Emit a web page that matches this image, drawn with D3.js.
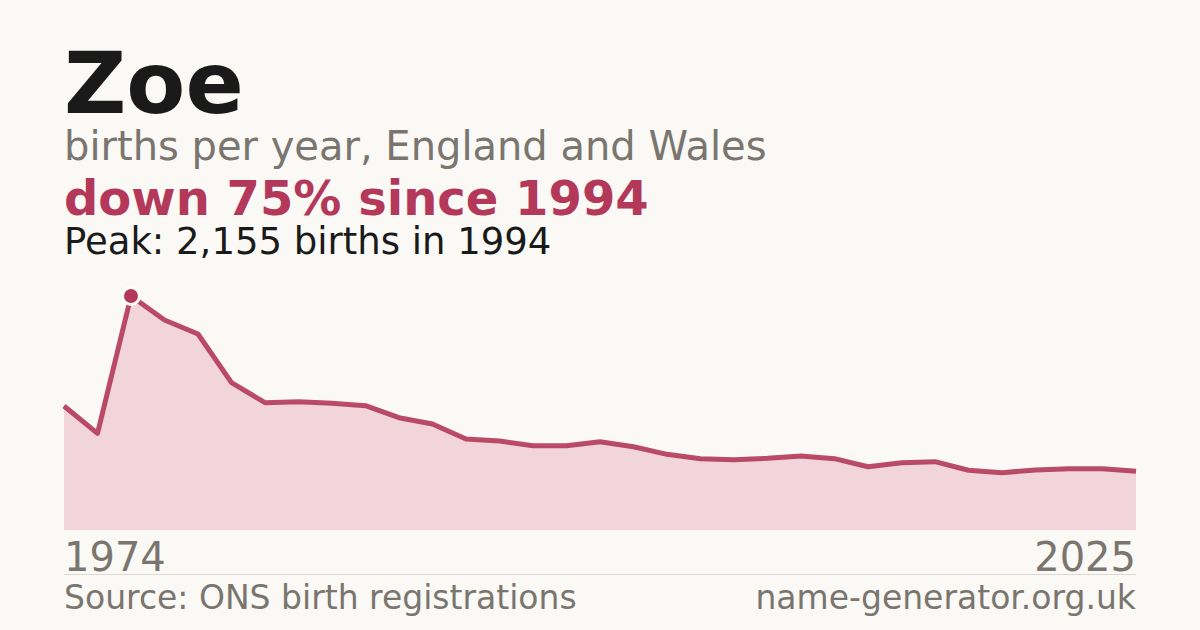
<!DOCTYPE html>
<html lang="en">
<head>
<meta charset="utf-8">
<title>Zoe births</title>
<script src="https://d3js.org/d3.v7.min.js"></script>
<style>
  html, body { margin:0; padding:0; background:#faf9f5; }
  body { font-family:"DejaVu Sans", sans-serif; }
</style>
</head>
<body>
<div id="chart"></div>
<script>
// births per year, one point per plotted year (first is 1974, last is 2025)
var births = [1142, 890, 2155, 1934, 1805, 1357, 1173, 1182, 1168, 1145,
              1034, 976, 838, 820, 776, 776, 813, 767, 697, 657,
              647, 660, 681, 657, 583, 620, 629, 550, 528, 553,
              565, 565, 540]
var tickLabels = ["1974", "2025"]
var peakIndex = 2

var w = 1200, h = 630
var plotLeft = 64, plotRight = 1136, plotBase = 530, plotTop = 296

var svg = d3.select("#chart").append("svg")
  .attr("width", w).attr("height", h)

svg.append("rect").attr("width", w).attr("height", h).attr("fill", "#faf9f5")

var xScale = d3.scalePoint().domain(d3.range(births.length)).range([plotLeft, plotRight])
var yScale = d3.scaleLinear().domain([0, d3.max(births)]).range([plotBase, plotTop])

// headings
svg.append("text").attr("x", 64).attr("y", 113)
  .attr("font-size", 86).attr("font-weight", "bold").attr("fill", "#1a1a1a")
  .text("Zoe")
svg.append("text").attr("x", 64).attr("y", 160)
  .attr("font-size", 40).attr("fill", "#7a756e")
  .text("births per year, England and Wales")
svg.append("text").attr("x", 64).attr("y", 215)
  .attr("font-size", 48).attr("font-weight", "bold").attr("fill", "#b3385a")
  .text("down 75% since 1994")
svg.append("text").attr("x", 64).attr("y", 254)
  .attr("font-size", 37).attr("fill", "#1a1a1a")
  .text("Peak: 2,155 births in 1994")

// area + line
var area = d3.area()
  .x(function(d, i) { return xScale(i) })
  .y0(plotBase)
  .y1(function(d) { return yScale(d) })
var line = d3.line()
  .x(function(d, i) { return xScale(i) })
  .y(function(d) { return yScale(d) })

svg.append("path").datum(births)
  .attr("d", area)
  .attr("fill", "#f1d5da")
svg.append("path").datum(births)
  .attr("d", line)
  .attr("fill", "none")
  .attr("stroke", "#b3385a")
  .attr("stroke-opacity", 0.9)
  .attr("stroke-width", 5)
  .attr("stroke-linejoin", "round")

// peak marker
svg.append("circle")
  .attr("cx", xScale(peakIndex))
  .attr("cy", yScale(births[peakIndex]))
  .attr("r", 8.5)
  .attr("fill", "#b3385a")
  .attr("stroke", "#ffffff")
  .attr("stroke-width", 3)

// end labels
svg.append("text").attr("x", plotLeft).attr("y", 571)
  .attr("font-size", 40).attr("fill", "#7a756e")
  .text(tickLabels[0])
svg.append("text").attr("x", plotRight).attr("y", 571)
  .attr("text-anchor", "end")
  .attr("font-size", 40).attr("fill", "#7a756e")
  .text(tickLabels[1])

svg.append("line")
  .attr("x1", plotLeft).attr("x2", plotRight)
  .attr("y1", 574.5).attr("y2", 574.5)
  .attr("stroke", "#dcd9d3").attr("stroke-width", 1)

// footer
svg.append("text").attr("x", plotLeft).attr("y", 609)
  .attr("font-size", 33).attr("fill", "#7a756e")
  .text("Source: ONS birth registrations")
svg.append("text").attr("x", plotRight).attr("y", 609)
  .attr("text-anchor", "end")
  .attr("font-size", 33).attr("fill", "#7a756e")
  .text("name-generator.org.uk")
</script>
</body>
</html>
